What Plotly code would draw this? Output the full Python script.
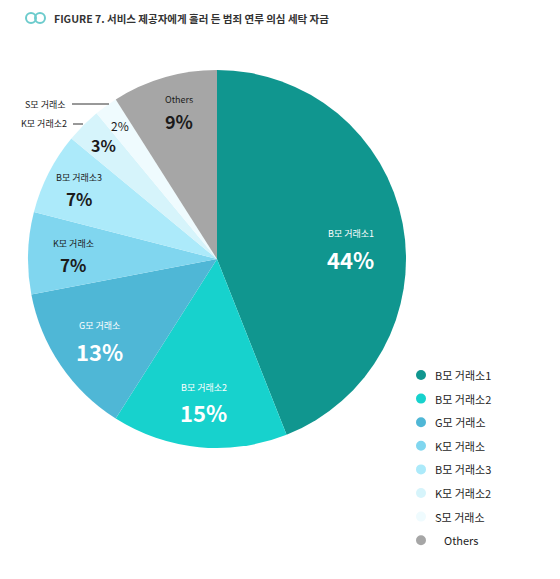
import math
import plotly.graph_objects as go

# --- data -----------------------------------------------------------------
labels = ["B모 거래소1", "B모 거래소2", "G모 거래소", "K모 거래소",
          "B모 거래소3", "K모 거래소2", "S모 거래소", "Others"]
values = [44, 15, 13, 7, 7, 3, 2, 9]
colors = ["#10968f", "#17d2cd", "#4fb7d6", "#80d6ef",
          "#aceafa", "#d6f4fb", "#effbfe", "#a6a6a6"]
title_text = "FIGURE 7. 서비스 제공자에게 흘러 든 범죄 연루 의심 세탁 자금"

# --- layout constants -------------------------------------------------------
W, H = 560, 579
CX, CY, R = 217, 259, 189          # pie centre / radius in px
FONT = "Noto Sans CJK KR, Lato, sans-serif"

# label styling per slice: (radius fraction, angle nudge deg, pct size, pct bold,
#                           text colour, show name inside)
label_style = [
    (0.71, 5.5, 22, True, "white", True),
    (0.75, 0.0, 22, True, "white", True),
    (0.75, 0.0, 22, True, "white", True),
    (0.76, 0.0, 17, True, "#1b1b1b", True),
    (0.82, 0.0, 17, True, "#1b1b1b", True),
    (0.85, 0.0, 16, True, "#1b1b1b", False),
    (0.87, 0.0, 12, False, "#1b1b1b", False),
    (0.81, 2.0, 18, True, "#1b1b1b", True),
]


def px_to_paper(x, y):
    return x / W, 1 - y / H


fig = go.Figure()

x0, y1 = px_to_paper(CX - R, CY - R)
x1, y0 = px_to_paper(CX + R, CY + R)
fig.add_trace(go.Pie(
    labels=labels, values=values, sort=False, direction="clockwise",
    rotation=0, marker=dict(colors=colors, line=dict(width=0)),
    textinfo="none", hoverinfo="label+percent", showlegend=False,
    domain=dict(x=[x0, x1], y=[y0, y1]),
))

annotations = []
shapes = []

# slice labels placed along each slice's bisector
total = sum(values)
cum = 0
for lab, val, st in zip(labels, values, label_style):
    frac, nudge, psize, pbold, tcol, show_name = st
    mid = (cum + val / 2) / total * 360 + nudge
    cum += val
    r = frac * R
    ax = CX + r * math.sin(math.radians(mid))
    ay = CY - r * math.cos(math.radians(mid))
    pct = f"{val}%"
    if pbold:
        pct = f"<b>{pct}</b>"
    if show_name:
        gap = 12 if psize >= 20 else 10
        nx, ny = px_to_paper(ax, ay - gap - 1)
        annotations.append(dict(x=nx, y=ny, xref="paper", yref="paper",
                                text=lab, showarrow=False, borderpad=0,
                                font=dict(family=FONT, size=9, color=tcol),
                                xanchor="center", yanchor="middle"))
        px_, py_ = px_to_paper(ax, ay + gap)
    else:
        px_, py_ = px_to_paper(ax, ay)
    annotations.append(dict(x=px_, y=py_, xref="paper", yref="paper",
                            text=pct, showarrow=False, borderpad=0,
                            font=dict(family=FONT, size=psize, color=tcol),
                            xanchor="center", yanchor="middle"))

# outside names for the two thin slices, with leader lines
for name_idx, (tx, ty, lx0, lx1) in [(6, (72, 104, 72, 109)),
                                     (5, (73, 124, 73, 83))]:
    px_, py_ = px_to_paper(tx - 4, ty)
    annotations.append(dict(x=px_, y=py_, xref="paper", yref="paper",
                            text=labels[name_idx], showarrow=False,
                            font=dict(family=FONT, size=9, color="#1b1b1b"),
                            xanchor="right", yanchor="middle"))
    a0 = px_to_paper(lx0, ty)
    a1 = px_to_paper(lx1, ty)
    shapes.append(dict(type="line", xref="paper", yref="paper",
                       x0=a0[0], y0=a0[1], x1=a1[0], y1=a1[1],
                       line=dict(color="#333333", width=1)))

# custom legend with round swatches
LEG_X, LEG_Y0, LEG_DY, DOT_R = 421, 375, 23.6, 5
for i, (lab, col) in enumerate(zip(labels, colors)):
    yy = LEG_Y0 + i * LEG_DY
    c0 = px_to_paper(LEG_X - DOT_R, yy - DOT_R)
    c1 = px_to_paper(LEG_X + DOT_R, yy + DOT_R)
    shapes.append(dict(type="circle", xref="paper", yref="paper",
                       x0=c0[0], y0=c1[1], x1=c1[0], y1=c0[1],
                       fillcolor=col, line=dict(width=0)))
    indent = 9 if lab == "Others" else 0
    tx, ty = px_to_paper(LEG_X + 12 + indent, yy)
    annotations.append(dict(x=tx, y=ty, xref="paper", yref="paper",
                            text=lab, showarrow=False,
                            font=dict(family=FONT, size=11, color="#1e1e1e"),
                            xanchor="left", yanchor="middle"))

# title with the small linked-rings icon
for cx_ in (31, 40):
    c0 = px_to_paper(cx_ - 5, 13)
    c1 = px_to_paper(cx_ + 5, 23)
    shapes.append(dict(type="circle", xref="paper", yref="paper",
                       x0=c0[0], y0=c1[1], x1=c1[0], y1=c0[1],
                       line=dict(color="#6ccbcc", width=2)))
tx, ty = px_to_paper(52, 18)
annotations.append(dict(x=tx, y=ty, xref="paper", yref="paper",
                        text=f"<b>{title_text}</b>", showarrow=False,
                        font=dict(family=FONT, size=10.5, color="#333333"),
                        xanchor="left", yanchor="middle"))

fig.update_layout(
    width=W, height=H,
    margin=dict(l=0, r=0, t=0, b=0),
    paper_bgcolor="white", plot_bgcolor="white",
    annotations=annotations, shapes=shapes,
    showlegend=False,
)

fig.write_html("out.html")
